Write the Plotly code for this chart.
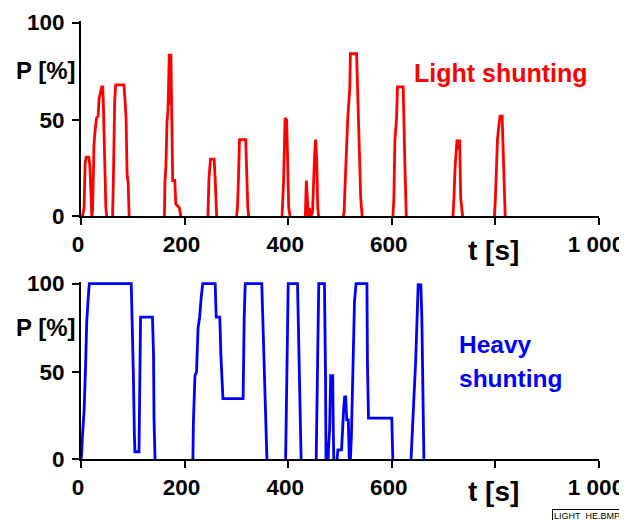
import plotly.graph_objects as go

# Light shunting (red)
light_t = [0, 3, 6, 8, 10, 15, 17, 19, 21, 22.5, 25, 27, 30, 33, 35, 40, 42, 43, 45, 48, 50,
           61, 63, 65, 67, 83, 85, 87, 89, 91, 93,
           161, 162, 164, 166, 168, 170.5, 172, 173.5, 175, 177, 181, 183, 190, 193,
           245, 247, 250, 257, 259, 262,
           300, 302, 304, 306, 318, 320, 322, 324,
           388, 391, 392, 394, 397, 399, 401, 404,
           433, 435, 437, 439, 441, 443, 447, 449, 451, 453, 455, 457, 459,
           506, 508, 510, 513, 515, 519, 520, 532, 534, 537, 540, 543,
           602, 604, 606, 609, 611, 622, 623, 625, 628,
           718, 720, 722, 726, 729, 731, 733, 737,
           798, 800, 802, 804, 807, 809, 813, 815, 817, 819]
light_p = [0, 1, 5, 28, 31, 31, 27, 5, 0, 5, 37, 44, 51, 52, 61, 67, 67, 60, 38, 5, 0,
           0, 27, 60, 68, 68, 60, 51, 22, 18, 0,
           0, 18, 27, 49, 55, 84, 58, 84, 55, 19, 19, 7, 5, 0,
           0, 20, 30, 30, 20, 0,
           0, 5, 20, 40, 40, 20, 5, 0,
           0, 18, 27, 51, 50, 18, 5, 0,
           0, 19, 10, 0, 5, 0, 3, 20, 32, 40, 30, 5, 0,
           0, 3, 18, 39, 51, 67, 84, 84, 67, 32, 10, 0,
           0, 10, 40, 50, 67, 67, 50, 30, 0,
           0, 10, 25, 40, 35, 40, 10, 0,
           0, 10, 25, 40, 48, 52, 52, 30, 10, 0]

# Heavy shunting (blue)
heavy_t = [0, 1, 3, 6, 9, 11, 14, 16, 97, 99, 101, 103, 104, 112, 114, 115, 138, 140, 141, 143,
           216, 217, 220, 223, 226, 229, 232, 235, 259, 261, 268, 270, 274, 313, 315, 317, 349, 351, 354, 357, 359,
           395, 397, 400, 418, 421, 423, 425,
           454, 456, 458, 459, 470, 471, 472, 473,
           477, 478, 480, 482, 486, 487, 488,
           494, 496, 503, 505, 507, 509, 511, 513, 516, 518,
           520, 522, 524, 526, 528, 531, 552, 553, 555, 600, 602,
           637, 640, 643, 646, 649, 651, 654, 656, 658, 660, 662]
heavy_p = [0, 3, 15, 28, 55, 78, 92, 100, 100, 78, 50, 16, 5, 5, 40, 81, 81, 60, 23, 0,
           0, 22, 48, 50, 75, 81, 92, 100, 100, 81, 81, 60, 35, 35, 80, 100, 100, 81, 50, 22, 0,
           0, 50, 100, 100, 60, 20, 0,
           0, 40, 80, 100, 100, 80, 48, 0,
           0, 8, 18, 48, 48, 18, 0,
           0, 6, 6, 20, 29, 36, 36, 23, 23, 0,
           0, 14, 40, 62, 90, 100, 100, 55, 24, 24, 0,
           0, 18, 40, 56, 82, 100, 98, 100, 81, 40, 0]

x_tickvals = [0, 200, 400, 600, 800, 1000]
x_ticktext = ["0", "200", "400", "600", "", "1 000"]
y_tickvals = [0, 50, 100]
y_ticktext = ["0", "50", "100"]

# page body has an 8px margin: figure placed at (8, 8) inside a 627x520 window
OFF = 8
W, H = 627 - OFF, 520 - OFF
FONT = "Liberation Sans, Arial, sans-serif"

def px(x):
    return (x - OFF) / W

def py(y):
    return 1 - (y - OFF) / H

fig = go.Figure()
fig.add_trace(go.Scatter(x=light_t, y=light_p, mode="lines",
                         line=dict(color="#ff0000", width=2.8), xaxis="x", yaxis="y",
                         showlegend=False, hoverinfo="skip"))
fig.add_trace(go.Scatter(x=heavy_t, y=heavy_p, mode="lines",
                         line=dict(color="#0000ff", width=2.8), xaxis="x2", yaxis="y2",
                         showlegend=False, hoverinfo="skip"))

xdom = [px(81), px(599)]
tickfont = dict(family=FONT, size=22.5, color="black", weight="bold")
common_x = dict(range=[0, 1000], showline=True, linecolor="black", linewidth=2,
                ticks="outside", ticklen=7, tickwidth=2, tickcolor="black",
                tickvals=x_tickvals, ticktext=x_ticktext, tickfont=tickfont,
                showgrid=False, zeroline=False, domain=xdom, fixedrange=True,
                automargin=False, ticklabeloverflow="allow", ticklabelstandoff=0,
                ticklabelshift=-3)

def yaxis_cfg(lo, hi, dom):
    # axis line sits at the range minimum, labelled as the 0 tick
    tv = [lo] + y_tickvals[1:]
    return dict(range=[lo, hi], domain=dom, showline=True, linecolor="black", linewidth=2,
                ticks="outside", ticklen=7, tickwidth=2, tickcolor="black",
                tickvals=tv, ticktext=y_ticktext, tickfont=tickfont,
                showgrid=False, zeroline=False, fixedrange=True,
                automargin=False, ticklabeloverflow="allow", ticklabelstandoff=3)

fig.update_layout(
    width=W, height=H, margin=dict(l=0, r=0, t=0, b=0),
    paper_bgcolor="white", plot_bgcolor="white",
    xaxis=dict(common_x, anchor="y"),
    yaxis=dict(yaxis_cfg(0.8, 100.8, [py(216), py(21)]), anchor="x"),
    xaxis2=dict(common_x, anchor="y2"),
    yaxis2=dict(yaxis_cfg(0.9, 100.9, [py(459), py(282)]), anchor="x2"),
)

def ann(text, x, y, size, color="black", xanchor="center", **kw):
    fig.add_annotation(text=text, x=px(x), y=py(y), xref="paper", yref="paper",
                       xanchor=xanchor, yanchor="middle", showarrow=False,
                       font=dict(family=FONT, size=size, color=color, weight="bold"), **kw)

ann("P [%]", 46, 70, 24)
ann("P [%]", 46, 327, 24)
ann("t [s]", 494, 250, 28)
ann("t [s]", 493, 491, 28)
ann("Light shunting", 501, 73, 25, color="#ff0000")
ann("Heavy", 457, 344, 24.5, color="#0000ff", xanchor="left")
ann("shunting", 457, 378, 24.5, color="#0000ff", xanchor="left")
fig.add_annotation(text="LIGHT_HE.BMP", x=px(622), y=py(509), xref="paper", yref="paper",
                   xanchor="right", yanchor="top", showarrow=False,
                   font=dict(family=FONT, size=9, color="black"),
                   bordercolor="black", borderwidth=1, borderpad=1, bgcolor="white")

fig.write_html("out.html")
